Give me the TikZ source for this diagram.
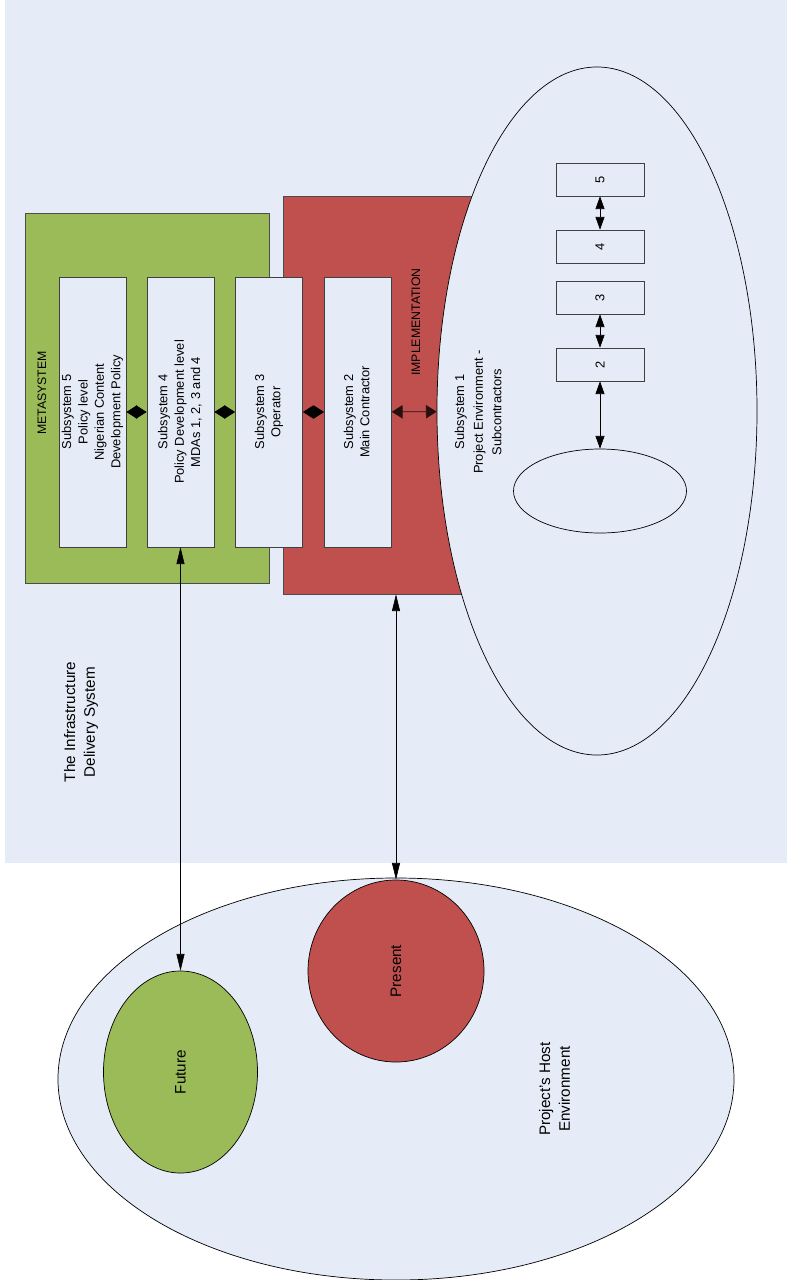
\documentclass[tikz,border=0pt]{standalone}
\usepackage{fontspec}
\setmainfont{Liberation Sans}
\usetikzlibrary{arrows.meta, positioning, shapes.geometric}
\usepackage{xcolor}
\definecolor{paleblue}{HTML}{E6ECF7}
\definecolor{metagreen}{HTML}{9BBB59}
\definecolor{implred}{HTML}{C0504D}
\def\px{0.03cm}
\newcommand{\vtext}[1]{\rotatebox{90}{\begin{tabular}{@{}c@{}}#1\end{tabular}}}

\begin{document}
\begin{tikzpicture}[x=\px, y=-\px, line width=0.6pt, >={Triangle[length=0.32cm,width=0.4cm]}]
    \tikzstyle{region}=[rectangle, draw=black!70, minimum width=7.32cm, minimum height=11.1cm, inner sep=0pt]
    \tikzstyle{subbox}=[rectangle, draw=black!75, fill=paleblue, minimum width=2.01cm, minimum height=8.1cm, inner sep=0pt, font=\fontsize{11}{14}\selectfont]
    \tikzstyle{cbox}=[rectangle, draw=black!75, fill=paleblue, minimum width=2.64cm, minimum height=0.99cm, inner sep=0pt, font=\fontsize{11}{13}\selectfont]
    \tikzstyle{blob}=[ellipse, draw=black, fill=paleblue, inner sep=0pt]
    \tikzstyle{heading}=[inner sep=0pt, font=\fontsize{10.5}{13}\selectfont]
    \tikzstyle{note}=[inner sep=0pt, font=\fontsize{11}{16}\selectfont]
    \tikzstyle{bignote}=[inner sep=0pt, font=\fontsize{13}{17}\selectfont]
    \tikzstyle{long arrow}=[<->, line width=0.5pt, >={Triangle[length=0.5cm,width=0.24cm]}]
    \tikzstyle{small arrow}=[<->, line width=0.5pt, >={Triangle[length=0.38cm,width=0.27cm]}]

    \useasboundingbox (0,0) rectangle (787,1280);
    \fill[paleblue] (5,0) rectangle (787,863);

    % the delivery system
    \node[region, fill=metagreen] (meta) at (147,398) {};
    \node[region, fill=implred, minimum width=8.31cm, minimum height=11.94cm] (impl) at (421.5,395) {};
    \node[blob, minimum width=9.6cm, minimum height=20.64cm] (sub1) at (597,411) {};

    \node[heading] (metalabel) at (43,393) {\vtext{METASYSTEM}};
    \node[heading] (impllabel) at (417,322) {\vtext{IMPLEMENTATION}};
    \node[note] (sub1label) at (479,412) {\vtext{Subsystem 1\\Project Environment -\\Subcontractors}};
    \node[bignote] (idslabel) at (81,722) {\vtext{The Infrastructure\\Delivery System}};

    \node[subbox] (s5) at (92.5,412) {\vtext{Subsystem 5\\Policy level\\Nigerian Content\\Development Policy}};
    \node[subbox] (s4) at (180.5,412) {\vtext{Subsystem 4\\Policy Development level\\MDAs 1, 2, 3 and 4}};
    \node[subbox] (s3) at (269,412) {\vtext{Subsystem 3\\Operator}};
    \node[subbox] (s2) at (358,412) {\vtext{Subsystem 2\\Main Contractor}};

    \draw[<->] (s5) -- (s4);
    \draw[<->] (s4) -- (s3);
    \draw[<->] (s3) -- (s2);
    \draw[<->, draw=black!80!implred] (s2) -- (sub1);

    % subcontractors
    \node[cbox] (c5) at (600,179.5) {\rotatebox{90}{5}};
    \node[cbox] (c4) at (600,246.5) {\rotatebox{90}{4}};
    \node[cbox] (c3) at (600,297.5) {\rotatebox{90}{3}};
    \node[cbox] (c2) at (600,364.5) {\rotatebox{90}{2}};
    \node[blob, minimum width=5.19cm, minimum height=2.52cm] (cell) at (600,491) {};

    \draw[small arrow] (c5) -- (c4);
    \draw[small arrow] (c3) -- (c2);
    \draw[small arrow] (c2) -- (cell);

    % host environment
    \node[blob, minimum width=20.28cm, minimum height=12.06cm] (host) at (396,1079) {};
    \node[blob, fill=metagreen, minimum width=4.62cm, minimum height=6.06cm, font=\fontsize{13}{16}\selectfont] (future) at (180.5,1072) {\rotatebox{90}{Future}};
    \node[blob, fill=implred, minimum width=5.28cm, minimum height=5.46cm, font=\fontsize{13}{16}\selectfont] (present) at (396,971) {\rotatebox{90}{Present}};
    \node[bignote] (hostlabel) at (556,1089) {\vtext{Project's Host\\Environment}};

    \draw[long arrow] (s4) -- (future);
    \draw[long arrow] (impl.south -| present) -- (present);
\end{tikzpicture}
\end{document}
